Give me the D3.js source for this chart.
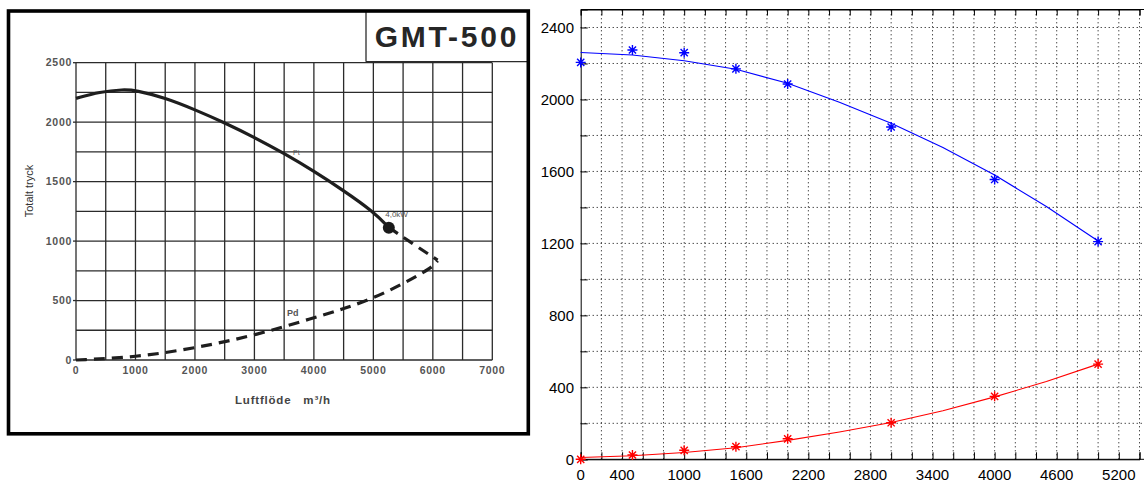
<!DOCTYPE html>
<html>
<head>
<meta charset="utf-8">
<script src="https://cdn.jsdelivr.net/npm/d3@7"></script>
<style>
  html, body { margin: 0; padding: 0; background: #fff; }
  svg { display: block; }
</style>
</head>
<body>
<div id="container"></div>
<script>
// ---- left panel: GMT-500 datasheet curve ----
const leftXTicks = [0, 1000, 2000, 3000, 4000, 5000, 6000, 7000];
const leftYTicks = [0, 500, 1000, 1500, 2000, 2500];
const ptFlow = [0, 400, 800, 1000, 1500, 2000, 2500, 3000, 3500, 4000, 4500, 5000, 5260];
const ptPressure = [2200, 2255, 2275, 2268, 2205, 2105, 1995, 1872, 1737, 1588, 1425, 1248, 1115];
const ptDashFlow = [5260, 5700, 6080];
const ptDashPressure = [1115, 965, 840];
const pdFlow = [0, 1000, 2000, 3000, 4000, 4500, 5000, 5500, 6000, 6080];
const pdPressure = [0, 22, 100, 205, 355, 430, 520, 640, 780, 835];
const ratedFlow = 5260, ratedPressure = 1112;

// ---- right panel: measured vs fitted ----
const measFlow = [0, 500, 1000, 1500, 2000, 3000, 4000, 5000];
const totalMeas = [2206, 2275, 2260, 2170, 2086, 1847, 1555, 1210];
const dynMeas = [0, 24, 50, 70, 114, 203, 350, 529];
const fitFlow = [0, 500, 1000, 1500, 2000, 2500, 3000, 3500, 4000, 4500, 5000];
const totalFit = [2261, 2247, 2215, 2168, 2090, 1985, 1868, 1733, 1580, 1405, 1213];
const dynFit = [10, 20, 38, 64, 105, 152, 205, 270, 347, 432, 529];
const rightXTickLabels = [0, 400, 1000, 1600, 2200, 2800, 3400, 4000, 4600, 5200];
const rightYTickLabels = [0, 400, 800, 1200, 1600, 2000, 2400];

const width = 1144, height = 481;
const svg = d3.select("#container").append("svg")
    .attr("width", width)
    .attr("height", height);

svg.append("rect").attr("width", width).attr("height", height).attr("fill", "#fff");

// ================= left =================
const L = svg.append("g");
const xL = d3.scaleLinear().domain([0, 7000]).range([76, 492.3]);
const yL = d3.scaleLinear().domain([0, 2500]).range([360, 62.7]);

const gridColor = "#2b2b2b";
L.append("g").selectAll("line").data(d3.range(0, 7001, 500)).join("line")
    .attr("x1", d => xL(d)).attr("x2", d => xL(d))
    .attr("y1", yL(0)).attr("y2", yL(2500))
    .attr("stroke", gridColor).attr("stroke-width", 1.3);
L.append("g").selectAll("line").data(d3.range(0, 2501, 250)).join("line")
    .attr("x1", xL(0)).attr("x2", xL(7000))
    .attr("y1", d => yL(d)).attr("y2", d => yL(d))
    .attr("stroke", gridColor).attr("stroke-width", 1.3);
// small ticks left of axis
L.append("g").selectAll("line").data(leftYTicks).join("line")
    .attr("x1", xL(0) - 3).attr("x2", xL(0))
    .attr("y1", d => yL(d)).attr("y2", d => yL(d))
    .attr("stroke", gridColor).attr("stroke-width", 1.3);

const tickFont = "Liberation Sans, Arial, sans-serif";
L.append("g").selectAll("text").data(leftYTicks).join("text")
    .attr("x", xL(0) - 4).attr("y", d => yL(d))
    .attr("dy", "0.35em").attr("text-anchor", "end")
    .attr("font-family", tickFont).attr("font-size", 10.5).attr("font-weight", "bold")
    .attr("letter-spacing", 0.7).attr("fill", "#555")
    .text(d => d);
L.append("g").selectAll("text").data(leftXTicks).join("text")
    .attr("x", d => xL(d)).attr("y", yL(0) + 14)
    .attr("text-anchor", "middle")
    .attr("font-family", tickFont).attr("font-size", 10.5).attr("font-weight", "bold")
    .attr("letter-spacing", 0.7).attr("fill", "#555")
    .text(d => d);

L.append("text")
    .attr("transform", `translate(33,191) rotate(-90)`)
    .attr("text-anchor", "middle")
    .attr("font-family", tickFont).attr("font-size", 11).attr("font-weight", "normal")
    .attr("fill", "#333")
    .text("Totalt tryck");
L.append("text")
    .attr("x", 235).attr("y", 404)
    .attr("font-family", tickFont).attr("font-size", 11.5).attr("font-weight", "bold")
    .attr("letter-spacing", 0.8)
    .attr("fill", "#444").attr("xml:space", "preserve")
    .text("Luftflöde   m³/h");

const lineL = d3.line().x(d => xL(d[0])).y(d => yL(d[1])).curve(d3.curveBasis);
L.append("path")
    .datum(d3.zip(ptFlow, ptPressure))
    .attr("d", lineL).attr("fill", "none")
    .attr("stroke", "#1e1e1e").attr("stroke-width", 3.2);
L.append("path")
    .datum(d3.zip(ptDashFlow, ptDashPressure))
    .attr("d", lineL).attr("fill", "none")
    .attr("stroke", "#1e1e1e").attr("stroke-width", 3.2)
    .attr("stroke-dasharray", "11,7");
L.append("path")
    .datum(d3.zip(pdFlow, pdPressure))
    .attr("d", lineL).attr("fill", "none")
    .attr("stroke", "#1e1e1e").attr("stroke-width", 3.2)
    .attr("stroke-dasharray", "11,7");
L.append("circle")
    .attr("cx", xL(ratedFlow)).attr("cy", yL(ratedPressure)).attr("r", 6)
    .attr("fill", "#1a1a1a");

L.append("text").attr("x", xL(3650)).attr("y", yL(1725))
    .attr("font-family", tickFont).attr("font-size", 7).attr("fill", "#555").text("Pt");
L.append("text").attr("x", xL(5200)).attr("y", yL(1200))
    .attr("font-family", tickFont).attr("font-size", 8).attr("fill", "#555").text("4,0kW");
L.append("text").attr("x", xL(3550)).attr("y", yL(370))
    .attr("font-family", tickFont).attr("font-size", 9).attr("font-weight", "bold")
    .attr("fill", "#555").text("Pd");

// title box
L.append("line").attr("x1", 366).attr("x2", 528).attr("y1", 61.7).attr("y2", 61.7)
    .attr("stroke", gridColor).attr("stroke-width", 1.3);
L.append("line").attr("x1", 366).attr("x2", 366).attr("y1", 11).attr("y2", 61.7)
    .attr("stroke", gridColor).attr("stroke-width", 1.3);
L.append("text").attr("x", 447).attr("y", 47)
    .attr("text-anchor", "middle")
    .attr("font-family", tickFont).attr("font-size", 30).attr("font-weight", "bold")
    .attr("letter-spacing", 2.8).attr("fill", "#262626")
    .text("GMT-500");

// frame
L.append("rect").attr("x", 8.5).attr("y", 11).attr("width", 519.8).attr("height", 422.8)
    .attr("fill", "none").attr("stroke", "#000").attr("stroke-width", 3.6);

// ================= right =================
const R = svg.append("g");
const xR = d3.scaleLinear().domain([0, 5400]).range([580.7, 1139.5]);
const yR = d3.scaleLinear().domain([0, 2500]).range([459.3, 9.5]);
const rightEdge = 1150;

// dotted grid
R.append("g").selectAll("line").data(d3.range(200, 5401, 200)).join("line")
    .attr("x1", d => xR(d)).attr("x2", d => xR(d))
    .attr("y1", yR(0)).attr("y2", yR(2500))
    .attr("stroke", "#000").attr("stroke-width", 1).attr("stroke-dasharray", "1,3");
R.append("g").selectAll("line").data(d3.range(200, 2401, 200)).join("line")
    .attr("x1", xR(0)).attr("x2", rightEdge)
    .attr("y1", d => yR(d)).attr("y2", d => yR(d))
    .attr("stroke", "#000").attr("stroke-width", 1).attr("stroke-dasharray", "1,3");

// axes box
const xAxisB = d3.axisBottom(xR).tickValues(d3.range(0, 5401, 200)).tickSize(-7).tickFormat("");
const xAxisT = d3.axisTop(xR).tickValues(d3.range(0, 5401, 200)).tickSize(-6).tickFormat("");
const yAxisL = d3.axisLeft(yR).tickValues(d3.range(0, 2401, 200)).tickSize(-7).tickFormat("");
R.append("g").attr("transform", `translate(0,${yR(0)})`).call(xAxisB);
R.append("g").attr("transform", `translate(0,${yR(2500)})`).call(xAxisT);
R.append("g").attr("transform", `translate(${xR(0)},0)`).call(yAxisL);
R.selectAll(".domain").attr("stroke", "#000");
R.selectAll(".tick line").attr("stroke", "#000");
R.append("line").attr("x1", xR(0)).attr("x2", rightEdge).attr("y1", yR(0)).attr("y2", yR(0))
    .attr("stroke", "#000");
R.append("line").attr("x1", xR(0)).attr("x2", rightEdge).attr("y1", yR(2500)).attr("y2", yR(2500))
    .attr("stroke", "#000");

R.append("g").selectAll("text").data(rightXTickLabels).join("text")
    .attr("x", d => xR(d)).attr("y", 479.5)
    .attr("text-anchor", "middle")
    .attr("font-family", tickFont).attr("font-size", 15).attr("fill", "#000")
    .text(d => d);
R.append("g").selectAll("text").data(rightYTickLabels).join("text")
    .attr("x", 574).attr("y", d => yR(d))
    .attr("dy", "0.36em").attr("text-anchor", "end")
    .attr("font-family", tickFont).attr("font-size", 15).attr("fill", "#000")
    .text(d => d);

const lineR = d3.line().x(d => xR(d[0])).y(d => yR(d[1]));
const series = [
    { fit: totalFit, meas: totalMeas, color: "#0000ff" },
    { fit: dynFit, meas: dynMeas, color: "#ff0000" }
];
const star = "M-5,0H5M0,-5V5M-3.6,-3.6L3.6,3.6M-3.6,3.6L3.6,-3.6";
series.forEach(s => {
    R.append("path")
        .datum(d3.zip(fitFlow, s.fit))
        .attr("d", lineR).attr("fill", "none")
        .attr("stroke", s.color).attr("stroke-width", 1.1);
    R.append("g").selectAll("path").data(d3.zip(measFlow, s.meas)).join("path")
        .attr("transform", d => `translate(${xR(d[0])},${yR(d[1])})`)
        .attr("d", star).attr("fill", "none")
        .attr("stroke", s.color).attr("stroke-width", 1.4);
});
</script>
</body>
</html>
